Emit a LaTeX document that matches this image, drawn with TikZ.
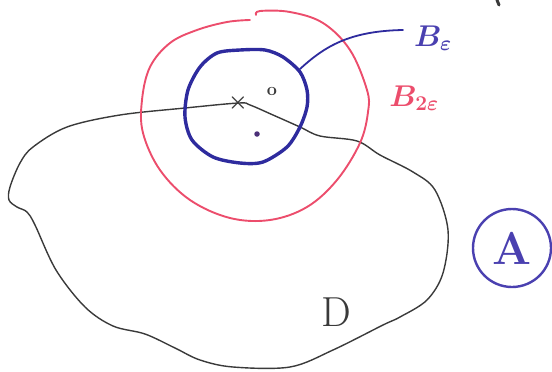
\RequirePackage{fix-cm}
\documentclass[tikz,border=0pt]{standalone}
\usepackage{amsmath}
\usetikzlibrary{calc}
\definecolor{Ink}{HTML}{3A3A3A}
\definecolor{Pink}{HTML}{EC4D6C}
\definecolor{Navy}{HTML}{2E2B9E}
\definecolor{Violet}{HTML}{4A40B0}
\definecolor{Plum}{HTML}{4B2F78}

\begin{document}
\begin{tikzpicture}[x=1pt,y=-1pt,line cap=round,line join=round,
  lbl/.style={inner sep=0pt,font=\fontsize{30}{32}\selectfont\boldmath}]
  \useasboundingbox (0,0) rectangle (552,372);
  % the set D
  \draw[Ink,line width=1.4pt] plot[smooth cycle,tension=0.55] coordinates {
    (239,103) (250,105) (273,115) (300,127) (320,136) (357,141) (380,155)
    (413,172) (435,190) (448,230) (443,273) (427,300) (400,317) (383,325)
    (333,350) (290,367) (233,367) (200,360) (175,348) (145,334) (113,326)
    (85,307) (56,270) (35,225) (27,212) (17,207) (9,200) (10,187) (20,163)
    (33,147) (67,127) (120,115) (185,108)};
  % ball of radius 2 eps
  \draw[Pink,line width=1.9pt] plot[smooth,tension=0.6] coordinates {
    (256,15) (260,11) (290,12) (323,23) (350,50) (367,90) (368,112)
    (360,143) (337,180) (307,207) (270,220) (230,218) (190,200) (160,170)
    (143,133) (142,100) (150,67) (170,43) (197,30) (227,22) (250,20)};
  % ball of radius eps
  \draw[Navy,line width=3.4pt] plot[smooth cycle,tension=0.5] coordinates {
    (265,50) (283,57) (300,72) (307,90) (307,107) (300,127) (287,147)
    (263,162) (240,163) (213,157) (192,140) (185,117) (188,90) (200,67)
    (217,53) (240,50)};
  \node[Violet,lbl] (beps) at (433,38) {$B_{\varepsilon}$};
  \node[Pink,lbl] (b2eps) at (414,98) {$B_{2\varepsilon}$};
  \coordinate (bfoot) at (300,69);
  \coordinate (btip) at (403,30);
  \draw[Navy,line width=1.8pt] (bfoot) .. controls (325,46) and (350,31) .. (btip);
  % points
  \node[Ink,inner sep=0pt,font=\fontsize{22}{22}\selectfont\boldmath] (xpt) at (238,103) {$\times$};
  \node[Ink,inner sep=0pt,font=\fontsize{18}{18}\selectfont\bfseries] (opt) at (272,91) {o};
  \node[circle,fill=Plum,inner sep=0pt,minimum size=5.5pt] (dotpt) at (257,134) {};
  \node[Ink,inner sep=0pt,font=\fontsize{42}{44}\selectfont] (dlbl) at (336,312) {D};
  \node[Violet,draw,circle,line width=2.4pt,minimum size=78pt,inner sep=0pt,
    font=\fontsize{46}{48}\selectfont\bfseries] (albl) at (512,248) {A};
  \draw[Ink,line width=3pt] (497,0) -- (499,5);
\end{tikzpicture}
\end{document}
